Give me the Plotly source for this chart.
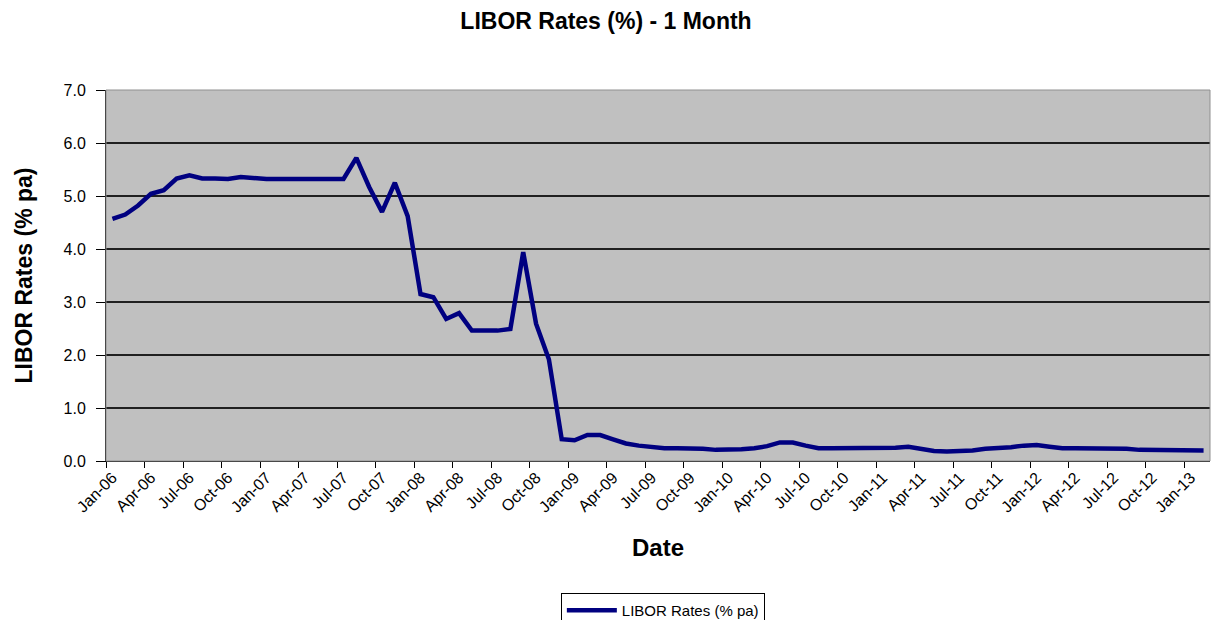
import plotly.graph_objects as go

# Monthly 1-month LIBOR, Jan-06 .. Feb-13
months = [
    f"{m}-{y:02d}"
    for y in range(6, 14)
    for m in ["Jan", "Feb", "Mar", "Apr", "May", "Jun", "Jul", "Aug", "Sep", "Oct", "Nov", "Dec"]
][:86]

rates_2006 = [4.57, 4.65, 4.82, 5.04, 5.11, 5.33, 5.39, 5.33, 5.33, 5.32, 5.36, 5.33]
rates_2007 = [5.32, 5.32, 5.32, 5.32, 5.32, 5.32, 5.32, 5.72, 5.17, 4.70, 5.25, 4.62]
rates_2008 = [3.15, 3.09, 2.68, 2.79, 2.46, 2.46, 2.46, 2.49, 3.94, 2.59, 1.92, 0.41]
rates_2009 = [0.39, 0.49, 0.49, 0.41, 0.33, 0.29, 0.26, 0.24, 0.24, 0.24, 0.23, 0.21]
rates_2010 = [0.21, 0.22, 0.24, 0.28, 0.35, 0.35, 0.29, 0.24, 0.24, 0.24, 0.24, 0.24]
rates_2011 = [0.24, 0.25, 0.27, 0.23, 0.19, 0.18, 0.18, 0.20, 0.23, 0.24, 0.26, 0.29]
rates_2012 = [0.30, 0.27, 0.24, 0.24, 0.24, 0.24, 0.24, 0.23, 0.21, 0.21, 0.21, 0.21]
rates_2013 = [0.20, 0.20]

rates = rates_2006 + rates_2007 + rates_2008 + rates_2009 + rates_2010 + rates_2011 + rates_2012 + rates_2013

y_ticks = [0, 1, 2, 3, 4, 5, 6, 7]

font = "Liberation Sans, Arial, sans-serif"

fig = go.Figure()
fig.add_trace(go.Scatter(
    x=months,
    y=rates,
    mode="lines",
    name="LIBOR Rates (% pa)",
    line=dict(color="#000080", width=4.5),
))

fig.update_layout(
    width=1212,
    height=620,
    margin=dict(l=106, r=2, t=90, b=159, autoexpand=False),
    paper_bgcolor="white",
    plot_bgcolor="#C0C0C0",
    font=dict(family=font, color="black"),
    title=dict(
        text="<b>LIBOR Rates (%) - 1 Month</b>",
        x=606 / 1212, xanchor="center", y=1 - 21 / 620, yanchor="middle",
        font=dict(size=23),
    ),
    showlegend=True,
    legend=dict(
        orientation="h",
        x=0.412, xanchor="left",
        y=-0.356, yanchor="top",
        bordercolor="black", borderwidth=1,
        font=dict(size=15),
        bgcolor="white",
        itemwidth=50,
    ),
)

fig.update_xaxes(
    type="category",
    range=[-0.5, len(months) - 0.5],
    tickmode="linear", tick0=0, dtick=3,
    tickson="boundaries",
    tickangle=-45,
    tickfont=dict(size=16),
    ticks="outside", ticklen=6, tickcolor="black",
    showline=True, linecolor="black", linewidth=1,
    showgrid=False,
    automargin=False,
)

fig.update_yaxes(
    range=[0, 7],
    tickmode="array",
    tickvals=y_ticks,
    ticktext=[f"{v:.1f}" for v in y_ticks],
    tickfont=dict(size=16),
    ticks="outside", ticklen=9, tickcolor="black",
    ticklabelstandoff=7,
    showline=True, linecolor="black", linewidth=1,
    showgrid=True, gridcolor="#202020", gridwidth=1.5,
    zeroline=False,
    automargin=False,
)

# axis titles placed as in the original
fig.add_annotation(
    text="<b>Date</b>", xref="paper", yref="paper",
    x=0.5, y=-0.2345, xanchor="center", yanchor="middle",
    showarrow=False, font=dict(size=24),
)
fig.add_annotation(
    text="<b>LIBOR Rates (% pa)</b>", xref="paper", yref="paper",
    x=-0.0743, y=0.5, xanchor="center", yanchor="middle", textangle=-90,
    showarrow=False, font=dict(size=23),
)

# thin grey frame around the plot area
fig.add_shape(
    type="rect", xref="paper", yref="paper",
    x0=0, y0=0, x1=1, y1=1,
    line=dict(color="#909090", width=1),
    layer="above",
)

# drop the default page margin so the figure fills the window exactly
fig.write_html(
    "out.html",
    config={"displayModeBar": False},
    post_script="document.body.style.margin='0';document.body.style.overflow='hidden';",
)
